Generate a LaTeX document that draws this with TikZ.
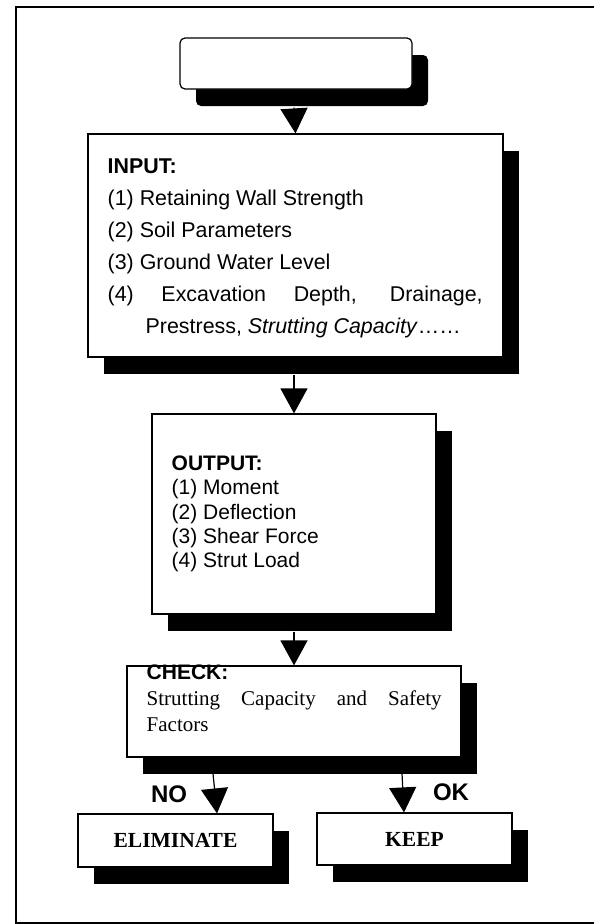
\documentclass[tikz,border=0pt]{standalone}
\usepackage{fontspec}
\setmainfont{Liberation Serif}
\setsansfont{Liberation Sans}
\usetikzlibrary{arrows.meta, positioning, shadows}

\begin{document}
\begin{tikzpicture}[
                x = 1pt, y = -1pt, % one unit per pixel, downwards
                line join = miter,
                semithick % line style
        ]

        \tikzstyle{block}=[
            draw = black,
            line width = 1.2pt,
            fill = white,
            inner sep = 0pt,
            drop shadow = {shadow xshift=16pt, shadow yshift=-17pt, fill=black, opacity=1}
        ]
        \tikzstyle{listtext}=[
            inner sep = 0pt,
            align = left,
            font = \sffamily\fontsize{21.4}{32}\selectfont
        ]
        \tikzstyle{flow}=[
            line width = 1.2pt,
            -{Triangle[length=25pt, width=27pt]}
        ]
        \tikzstyle{answer}=[
            inner sep = 0pt,
            font = \sffamily\bfseries\fontsize{24}{28}\selectfont
        ]

        \useasboundingbox (0,0) rectangle (594,924);
        \draw[line width=1.5pt] (16,7) rectangle (600,923);

        % boxes
        \node[block, rounded corners=5pt, minimum width=232pt, minimum height=51pt] (start) at (296,63.5) {};
        \node[block, minimum width=415pt, minimum height=223pt] (inbox) at (295.5,245.5) {};
        \node[block, minimum width=284pt, minimum height=200pt] (outbox) at (294,514) {};
        \node[block, minimum width=334pt, minimum height=91pt] (checkbox) at (294,711.5) {};
        \node[block, minimum width=195pt, minimum height=53pt,
              font=\rmfamily\bfseries\fontsize{21.5}{24}\selectfont] (elimbox) at (175.5,840.5) {ELIMINATE};
        \node[block, minimum width=195pt, minimum height=52pt,
              font=\rmfamily\bfseries\fontsize{21.5}{24}\selectfont] (keepbox) at (414.5,839) {KEEP};

        % texts in the boxes
        \node[listtext, below right=25pt and 20pt of inbox.north west] (intext) {%
            \textbf{INPUT:}\\
            (1) Retaining Wall Strength\\
            (2) Soil Parameters\\
            (3) Ground Water Level\\
            \makebox[375pt][s]{(4) Excavation Depth, Drainage,}\\
            \hspace*{38pt}Prestress, \textit{Strutting Capacity}……};
        \node[listtext, font=\sffamily\fontsize{21}{24.4}\selectfont,
              below right=42pt and 20pt of outbox.north west] (outtext) {%
            \textbf{OUTPUT:}\\
            (1) Moment\\
            (2) Deflection\\
            (3) Shear Force\\
            (4) Strut Load};
        \node[listtext, font=\rmfamily\fontsize{21}{26}\selectfont,
              below right=-1pt and 20pt of checkbox.north west] (checktext) {%
            {\sffamily\bfseries CHECK:}\\
            \makebox[295pt][s]{Strutting Capacity and Safety}\\
            Factors};

        % connectors
        \draw[flow] ([xshift=-2pt, yshift=-18pt]start.south) -- (inbox.north);
        \draw[flow] ([xshift=-1.5pt, yshift=-17pt]inbox.south) -- (outbox.north);
        \draw[flow] ([yshift=-17pt]outbox.south) -- (checkbox.north);
        \draw[flow] ([xshift=-81pt, yshift=-16pt]checkbox.south) -- ([xshift=41.5pt]elimbox.north);
        \draw[flow] ([xshift=108pt, yshift=-16pt]checkbox.south) -- ([xshift=-10.5pt]keepbox.north);

        \node[answer] (no) at (169,794) {NO};
        \node[answer] (ok) at (451,792) {OK};

\end{tikzpicture}
\end{document}
